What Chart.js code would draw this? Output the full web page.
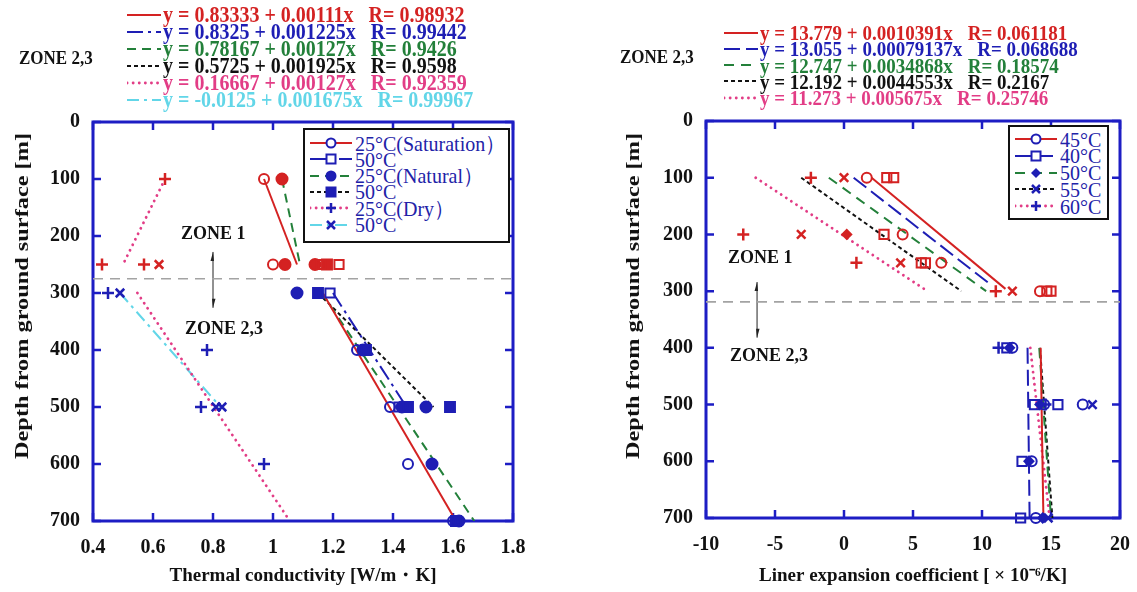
<!DOCTYPE html>
<html>
<head>
<meta charset="utf-8">
<title>Thermal conductivity and linear expansion vs depth</title>
<script src="https://cdn.jsdelivr.net/npm/chart.js@4.4.1/dist/chart.umd.min.js"></script>
<style>
  body { margin: 0; background: #fff; }
  #page { position: relative; width: 1137px; height: 592px; overflow: hidden; font-family: "Liberation Serif", "Times New Roman", serif; }
  .panel { position: absolute; top: 0; }
  .txt { position: absolute; white-space: nowrap; font-weight: bold; color: #111; transform: translateY(-50%) scaleY(1.1); }
  .eqs { position: absolute; font-weight: bold; }
  .eqrow { position: absolute; left: 0; height: 17px; line-height: 17px; white-space: nowrap; display: flex; align-items: center; }
  .eqrow span { display: inline-block; transform: scaleY(1.12); }
  .eqrow svg { flex: none; margin-right: 2px; }
  .eqrow .r { margin-left: 15px; }
  .ytitle { position: absolute; font-weight: bold; font-size: 19px; color: #111; white-space: nowrap; transform: translate(-50%, -50%) rotate(-90deg) scaleX(1.28); }
  .box { position: absolute; border: 2.5px solid #111; background: #fff; box-sizing: border-box; }
  .lrow { position: absolute; left: 5px; height: 16px; display: flex; align-items: center; white-space: nowrap; color: #2222a8; font-size: 20px; }
  .lrow span { display: inline-block; transform: scaleY(1.1); }
  .lrow svg { flex: none; margin-right: 3px; }
</style>
</head>
<body>
<div id="page">
  <canvas id="tc-chart" class="panel" style="left:0" width="560" height="592"></canvas>
  <canvas id="lec-chart" class="panel" style="left:560px" width="577" height="592"></canvas>

  <div class="txt" style="left:19px;top:58px;font-size:17px">ZONE 2,3</div>
  <div class="txt" style="left:620px;top:57px;font-size:17px">ZONE 2,3</div>
  <div id="tc-eqs" class="eqs" style="left:127px;top:6px;font-size:20px"></div>
  <div id="lec-eqs" class="eqs" style="left:724px;top:24px;font-size:19px"></div>

  <div class="ytitle" style="left:22px;top:296px">Depth from ground surface [m]</div>
  <div class="ytitle" style="left:633px;top:296px">Depth from ground surface [m]</div>

  <div class="txt" style="left:181px;top:233px;font-size:18px">ZONE 1</div>
  <div class="txt" style="left:185px;top:328px;font-size:18px">ZONE 2,3</div>
  <div class="txt" style="left:728px;top:257px;font-size:18px">ZONE 1</div>
  <div class="txt" style="left:730px;top:355px;font-size:18px">ZONE 2,3</div>

  <div id="tc-legend" class="box" style="left:303px;top:128px;width:207px;height:115px"></div>
  <div id="lec-legend" class="box" style="left:1008px;top:125px;width:101px;height:95px"></div>
</div>

<script>
// === Colours ===
const RED = "#d42222";
const BLUE = "#1e1eb4";
const GREEN = "#23803a";
const BLACK = "#111111";
const PINK = "#e23d86";
const CYAN = "#62d6e8";
const AXIS = "#1d1dc4";
const GRAY = "#a3a3a3";

// === Shared depth axis ===
const depthTicks = [0, 100, 200, 300, 400, 500, 600, 700];

// === Left: thermal conductivity [W/m·K] ===
const tcTicks = [0.4, 0.6, 0.8, 1, 1.2, 1.4, 1.6, 1.8];
const tcBoundary = 275;
const tcZoneArrow = [0.8, 228, 326]; // x value, top depth, bottom depth

// measured points as [depth, value]
const tcSat25 = [[100, 0.97], [250, 1.0], [400, 1.28], [500, 1.39], [600, 1.45], [700, 1.6]];
const tcSat50 = [[250, 1.16], [250, 1.22], [300, 1.19], [500, 1.42], [700, 1.61]];
const tcNat25 = [[100, 1.03], [250, 1.04], [250, 1.14], [300, 1.08], [400, 1.3], [500, 1.43], [500, 1.51], [600, 1.53], [700, 1.62]];
const tcNat50 = [[250, 1.18], [300, 1.15], [400, 1.31], [500, 1.45], [500, 1.59], [700, 1.61]];
const tcDry25 = [[100, 0.64], [250, 0.43], [250, 0.57], [300, 0.45], [400, 0.78], [500, 0.76], [600, 0.97]];
const tcDry50 = [[250, 0.62], [300, 0.49], [500, 0.81], [500, 0.83]];

// regression lines, zone 2,3
const tcFitSat25 = [[300, 1.166], [700, 1.61]];
const tcFitSat50 = [[300, 1.2], [500, 1.445]];
const tcFitNat25 = [[300, 1.163], [700, 1.671]];
const tcFitNat50 = [[300, 1.15], [500, 1.535]];
const tcFitDry25 = [[300, 0.548], [700, 1.056]];
const tcFitDry50 = [[300, 0.49], [500, 0.825]];
// regression lines, zone 1
const tcZ1Sat25 = [[100, 0.97], [250, 1.08]];
const tcZ1Nat25 = [[100, 1.03], [250, 1.09]];
const tcZ1Dry25 = [[100, 0.64], [250, 0.5]];

const tcEquations = ["y = 0.83333 + 0.00111x", "y = 0.8325 + 0.001225x", "y = 0.78167 + 0.00127x",
  "y = 0.5725 + 0.001925x", "y = 0.16667 + 0.00127x", "y = -0.0125 + 0.001675x"];
const tcR = ["R= 0.98932", "R= 0.99442", "R= 0.9426", "R= 0.9598", "R= 0.92359", "R= 0.99967"];
const tcLegend = ["25°C(Saturation）", "50°C", "25°C(Natural）", "50°C", "25°C(Dry）", "50°C"];

// === Right: linear expansion coefficient [x10^-6/K] ===
const lecTicks = [-10, -5, 0, 5, 10, 15, 20];
const lecBoundary = 319;
const lecZoneArrow = [-6.3, 284, 382];

const lec45 = [[100, 1.65], [200, 4.25], [250, 7.05], [300, 14.2], [400, 12.2], [500, 14.5], [500, 17.3], [600, 13.6], [700, 13.9]];
const lec40 = [[100, 3.1], [100, 3.6], [200, 2.9], [250, 5.6], [250, 5.9], [300, 14.7], [300, 15.0], [400, 11.8], [500, 13.8], [500, 15.5], [600, 12.9], [700, 12.8]];
const lec50 = [[200, 0.2], [400, 12.0], [500, 14.2], [600, 13.4], [700, 14.4]];
const lec55 = [[100, 0.0], [200, -3.1], [250, 4.1], [300, 12.2], [500, 18.0], [700, 14.8]];
const lec60 = [[100, -2.4], [200, -7.3], [250, 0.9], [300, 11.0], [400, 11.2], [500, 14.6]];

const lecFit45 = [[400, 14.25], [700, 14.45]];
const lecFit40 = [[400, 13.3], [700, 13.45]];
const lecFit50 = [[400, 14.15], [700, 15.0]];
const lecFit55 = [[400, 14.2], [700, 15.1]];
const lecFit60 = [[400, 13.5], [700, 14.9]];

const lecZ1_45 = [[100, 2.0], [296, 11.7]];
const lecZ1_40 = [[100, 0.7], [288, 10.6]];
const lecZ1_50 = [[100, -1.1], [300, 10.3]];
const lecZ1_55 = [[100, -3.1], [300, 8.5]];
const lecZ1_60 = [[100, -6.4], [296, 5.8]];

const lecEquations = ["y = 13.779 + 0.0010391x", "y = 13.055 + 0.00079137x", "y = 12.747 + 0.0034868x",
  "y = 12.192 + 0.0044553x", "y = 11.273 + 0.005675x"];
const lecR = ["R= 0.061181", "R= 0.068688", "R= 0.18574", "R= 0.2167", "R= 0.25746"];
const lecLegend = ["45°C", "40°C", "50°C", "55°C", "60°C"];

// === Series styles ===
const tcStyles = [
  { color: RED, dash: [], marker: "circle", filled: false, radius: 5 },
  { color: BLUE, dash: [16, 5, 3, 5], marker: "rect", filled: false, radius: 6.5 },
  { color: GREEN, dash: [9, 6], marker: "circle", filled: true, radius: 5.5 },
  { color: BLACK, dash: [4, 3], marker: "rect", filled: true, radius: 7 },
  { color: PINK, dash: [0.1, 6], marker: "cross", filled: false, radius: 6 },
  { color: CYAN, dash: [12, 5, 3, 5], marker: "crossRot", filled: false, radius: 6 },
];
const lecStyles = [
  { color: RED, dash: [], marker: "circle", filled: false, radius: 5 },
  { color: BLUE, dash: [16, 6], marker: "rect", filled: false, radius: 6.5 },
  { color: GREEN, dash: [10, 7], marker: "rectRot", filled: true, radius: 4.5 },
  { color: BLACK, dash: [4, 3], marker: "crossRot", filled: false, radius: 6 },
  { color: PINK, dash: [0.1, 6], marker: "cross", filled: false, radius: 6 },
];

// === Helpers ===
const toPoints = arr => arr.map(([d, v]) => ({ x: v, y: d }));
const tickFont = { family: "Liberation Serif", size: 20, weight: "bold" };

function markerSet(arr, st, boundary) {
  const zoneColor = c => (c.raw && c.raw.y < boundary ? RED : BLUE);
  return {
    data: toPoints(arr), showLine: false, order: 0, clip: false,
    pointStyle: st.marker, pointRadius: st.radius, pointBorderWidth: st.marker.startsWith("cross") ? 2.5 : 2,
    pointBorderColor: zoneColor,
    pointBackgroundColor: st.filled ? zoneColor : "rgba(255,255,255,0)",
  };
}

function lineSet(arr, st) {
  const dotted = st.dash.length && st.dash[0] < 1;
  return {
    data: toPoints(arr), showLine: true, order: 1, pointRadius: 0, fill: false,
    borderColor: st.color, borderWidth: dotted ? 2.8 : 2, borderDash: st.dash,
    borderCapStyle: dotted ? "round" : "butt", tension: 0,
  };
}

// box, inward ticks and the zone arrow
const frame = {
  id: "frame",
  beforeDatasetsDraw(chart, args, opts) {
    const { ctx, chartArea: a, scales: { x, y } } = chart;
    ctx.save();
    ctx.strokeStyle = AXIS;
    ctx.lineWidth = 2.5;
    ctx.beginPath();
    x.ticks.forEach(t => {
      const px = x.getPixelForValue(t.value);
      ctx.moveTo(px, a.bottom); ctx.lineTo(px, a.bottom - 8);
      ctx.moveTo(px, a.top); ctx.lineTo(px, a.top + 8);
    });
    y.ticks.forEach(t => {
      const py = y.getPixelForValue(t.value);
      ctx.moveTo(a.left, py); ctx.lineTo(a.left + 8, py);
      ctx.moveTo(a.right, py); ctx.lineTo(a.right - 8, py);
    });
    ctx.stroke();
    ctx.lineWidth = 3;
    ctx.strokeRect(a.left, a.top, a.width, a.height);

    const [ax, top, bottom] = opts.arrow;
    const px = x.getPixelForValue(ax);
    const y1 = y.getPixelForValue(top), y2 = y.getPixelForValue(bottom);
    ctx.strokeStyle = "#222";
    ctx.fillStyle = "#222";
    ctx.lineWidth = 1;
    ctx.beginPath();
    ctx.moveTo(px, y1); ctx.lineTo(px, y2);
    ctx.stroke();
    ctx.beginPath();
    ctx.moveTo(px, y1); ctx.lineTo(px - 2.5, y1 + 9); ctx.lineTo(px + 1, y1 + 9); ctx.closePath();
    ctx.moveTo(px, y2); ctx.lineTo(px + 2.5, y2 - 9); ctx.lineTo(px - 1, y2 - 9); ctx.closePath();
    ctx.fill();
    ctx.restore();
  }
};

function makeChart(id, cfg) {
  const datasets = [];
  cfg.markers.forEach((arr, i) => datasets.push(markerSet(arr, cfg.styles[i], cfg.boundary)));
  cfg.fits.forEach((arr, i) => datasets.push(lineSet(arr, cfg.styles[i])));
  cfg.zone1.forEach(([arr, i]) => datasets.push(lineSet(arr, cfg.styles[i])));
  const xMin = cfg.xTicks[0], xMax = cfg.xTicks[cfg.xTicks.length - 1];
  datasets.push({
    data: [{ x: xMin, y: cfg.boundary }, { x: xMax, y: cfg.boundary }],
    showLine: true, order: 2, pointRadius: 0, borderColor: GRAY, borderWidth: 1.6, borderDash: [10, 7],
  });

  return new Chart(document.getElementById(id), {
    type: "scatter",
    data: { datasets },
    plugins: [frame],
    options: {
      responsive: false,
      animation: false,
      layout: { padding: { top: cfg.top, right: cfg.right, left: 0, bottom: 0 } },
      plugins: { legend: { display: false }, tooltip: { enabled: false }, frame: { arrow: cfg.arrow } },
      scales: {
        x: {
          type: "linear", min: xMin, max: xMax,
          afterBuildTicks: s => { s.ticks = cfg.xTicks.map(v => ({ value: v })); },
          afterFit: s => { s.height = cfg.xHeight; },
          grid: { display: false }, border: { display: false },
          ticks: { font: tickFont, color: "#111", padding: 7, maxRotation: 0, callback: v => String(v) },
          title: { display: true, text: cfg.xTitle, color: "#111", font: { family: "Liberation Serif", size: 19, weight: "bold" }, padding: { top: 0, bottom: 5 } },
        },
        y: {
          type: "linear", reverse: true, min: 0, max: 700,
          afterBuildTicks: s => { s.ticks = depthTicks.map(v => ({ value: v })); },
          afterFit: s => { s.width = cfg.yWidth; },
          grid: { display: false }, border: { display: false },
          ticks: { font: tickFont, color: "#111", padding: 5, callback: v => String(v) },
        },
      },
    },
  });
}

// === Legend glyphs ===
function markerSvg(kind, filled, cx, cy) {
  const c = BLUE;
  if (kind === "circle") return `<circle cx="${cx}" cy="${cy}" r="4.5" fill="${filled ? c : "#fff"}" stroke="${c}" stroke-width="2"/>`;
  if (kind === "rect") return `<rect x="${cx - 4.5}" y="${cy - 4.5}" width="9" height="9" fill="${filled ? c : "#fff"}" stroke="${c}" stroke-width="2"/>`;
  if (kind === "rectRot") return `<polygon points="${cx},${cy - 5} ${cx + 5},${cy} ${cx},${cy + 5} ${cx - 5},${cy}" fill="${c}"/>`;
  if (kind === "cross") return `<path d="M${cx - 5} ${cy}H${cx + 5}M${cx} ${cy - 5}V${cy + 5}" stroke="${c}" stroke-width="2.5"/>`;
  return `<path d="M${cx - 4} ${cy - 4}L${cx + 4} ${cy + 4}M${cx + 4} ${cy - 4}L${cx - 4} ${cy + 4}" stroke="${c}" stroke-width="2.5"/>`;
}

function sampleSvg(st, w, withMarker) {
  const dotted = st.dash.length && st.dash[0] < 1;
  const dash = st.dash.length ? `stroke-dasharray="${st.dash.join(" ")}"` : "";
  const cap = dotted ? `stroke-linecap="round"` : "";
  const mk = withMarker ? markerSvg(st.marker, st.filled, w / 2, 7) : "";
  return `<svg width="${w}" height="14"><line x1="0" y1="7" x2="${w}" y2="7" stroke="${st.color}" stroke-width="${dotted ? 2.8 : 2}" ${dash} ${cap}/>${mk}</svg>`;
}

function buildEquations(id, eqs, rs, styles, rowH, sampleW) {
  document.getElementById(id).innerHTML = eqs.map((eq, i) =>
    `<div class="eqrow" style="top:${i * rowH}px;color:${styles[i].color}">${sampleSvg(styles[i], sampleW, false)}<span>${eq}</span><span class="r">${rs[i]}</span></div>`
  ).join("");
}

function buildLegend(id, labels, styles, firstTop, rowH) {
  document.getElementById(id).innerHTML = labels.map((lab, i) =>
    `<div class="lrow" style="top:${firstTop + i * rowH}px">${sampleSvg(styles[i], 42, true)}<span>${lab}</span></div>`
  ).join("");
}

// === Boot ===
buildEquations("tc-eqs", tcEquations, tcR, tcStyles, 17, 34);
buildEquations("lec-eqs", lecEquations, lecR, lecStyles, 16.25, 34);
buildLegend("tc-legend", tcLegend, tcStyles, 5, 16.3);
buildLegend("lec-legend", lecLegend, lecStyles, 4, 16.75);

makeChart("tc-chart", {
  xTicks: tcTicks, boundary: tcBoundary, arrow: tcZoneArrow, styles: tcStyles,
  markers: [tcSat25, tcSat50, tcNat25, tcNat50, tcDry25, tcDry50],
  fits: [tcFitSat25, tcFitSat50, tcFitNat25, tcFitNat50, tcFitDry25, tcFitDry50],
  zone1: [[tcZ1Sat25, 0], [tcZ1Nat25, 2], [tcZ1Dry25, 4]],
  top: 122, right: 47, yWidth: 93, xHeight: 71,
  xTitle: "Thermal conductivity [W/m・K]",
});

makeChart("lec-chart", {
  xTicks: lecTicks, boundary: lecBoundary, arrow: lecZoneArrow, styles: lecStyles,
  markers: [lec45, lec40, lec50, lec55, lec60],
  fits: [lecFit45, lecFit40, lecFit50, lecFit55, lecFit60],
  zone1: [[lecZ1_45, 0], [lecZ1_40, 1], [lecZ1_50, 2], [lecZ1_55, 3], [lecZ1_60, 4]],
  top: 121, right: 15, yWidth: 146, xHeight: 74,
  xTitle: "Liner expansion coefficient [ × 10⁻⁶/K]",
});
</script>
</body>
</html>
